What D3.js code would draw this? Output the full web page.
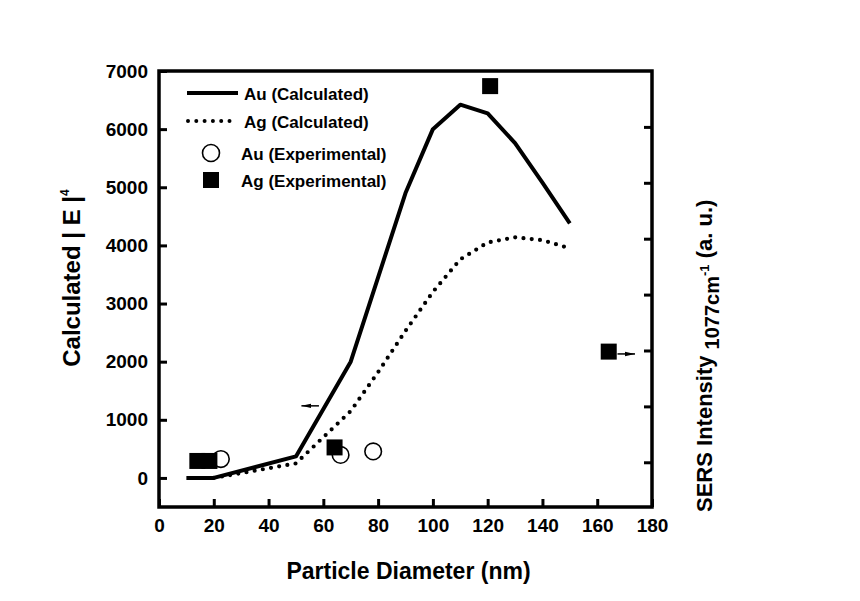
<!DOCTYPE html>
<html>
<head>
<meta charset="utf-8">
<script src="https://cdn.jsdelivr.net/npm/d3@7"></script>
<style>
  body { margin: 0; background: #fff; }
  svg { display: block; font-family: "Liberation Sans", Arial, sans-serif; font-weight: bold; }
</style>
</head>
<body>
<div id="chart"></div>
<script>
// calculated |E|^4 curves (nm, value)
const auCalcX = [10, 20, 50, 70, 90, 100, 110, 120, 130, 140, 150];
const auCalcY = [0, 0, 370, 2000, 4900, 6000, 6420, 6270, 5760, 5080, 4380];
const agCalcX = [20, 50, 70, 80, 90, 100, 110, 120, 130, 140, 150];
const agCalcY = [0, 250, 1150, 1820, 2530, 3200, 3760, 4050, 4140, 4090, 3950];

// experimental points, plotted on the left scale
const auExpX = [22.6, 66.3, 78.2];
const auExpY = [325, 396, 456];
const agExpX = [14.0, 18.4, 64.1, 120.9, 164.2];
const agExpY = [292, 292, 525, 6740, 2173];

const xTicks = [0, 20, 40, 60, 80, 100, 120, 140, 160, 180];
const yTicks = [0, 1000, 2000, 3000, 4000, 5000, 6000, 7000];
const yRightTicks = [0, 1, 2, 3, 4, 5, 6];

// axis-pointing arrows [x1, y1, x2, y2] in data units
const arrowLeft = [58.4, 1240, 52, 1240];
const arrowRight = [167.4, 2133, 173.8, 2133];

const legendItems = [
  { label: "Au (Calculated)", kind: "solid" },
  { label: "Ag (Calculated)", kind: "dotted" },
  { label: "Au (Experimental)", kind: "circle" },
  { label: "Ag (Experimental)", kind: "square" }
];

const width = 860, height = 601;
const svg = d3.select("#chart").append("svg")
  .attr("width", width)
  .attr("height", height);

svg.append("defs").append("marker")
  .attr("id", "head")
  .attr("viewBox", "0 0 10 6")
  .attr("refX", 10).attr("refY", 3)
  .attr("markerWidth", 10).attr("markerHeight", 6)
  .attr("markerUnits", "userSpaceOnUse")
  .attr("orient", "auto")
  .append("path").attr("d", "M0,0.8L10,3L0,5.2Z").attr("fill", "#000");

const x = d3.scaleLinear().domain([0, 180]).range([159, 652]);
const y = d3.scaleLinear().domain([-500, 7000]).range([507, 71]);
const yR = d3.scaleLinear().domain([-0.8, 7]).range([507, 71]);

// axes, ticks pointing inward
const xAxis = svg.append("g")
  .attr("transform", "translate(0," + y.range()[0] + ")")
  .call(d3.axisBottom(x).tickValues(xTicks).tickFormat(d3.format("d"))
    .tickSizeInner(-8).tickSizeOuter(0).tickPadding(12));
const yAxis = svg.append("g")
  .attr("transform", "translate(" + x.range()[0] + ",0)")
  .call(d3.axisLeft(y).tickValues(yTicks).tickFormat(d3.format("d"))
    .tickSizeInner(-8).tickSizeOuter(0).tickPadding(11));
const yAxisR = svg.append("g")
  .attr("transform", "translate(" + x.range()[1] + ",0)")
  .call(d3.axisRight(yR).tickValues(yRightTicks).tickSizeInner(-8).tickSizeOuter(0).tickFormat(""));

[xAxis, yAxis, yAxisR].forEach(function(g) {
  g.select(".domain").remove();
  g.selectAll(".tick line").attr("stroke", "#000").attr("stroke-width", 3);
  g.selectAll(".tick text")
    .attr("fill", "#000")
    .style("font-size", "19px")
    .style("font-family", "'Liberation Sans', Arial, sans-serif")
    .style("font-weight", "bold");
});

// frame
svg.append("rect")
  .attr("x", x.range()[0]).attr("y", y.range()[1])
  .attr("width", x.range()[1] - x.range()[0])
  .attr("height", y.range()[0] - y.range()[1])
  .attr("fill", "none").attr("stroke", "#000").attr("stroke-width", 3.5);

const line = d3.line().x(d => x(d[0])).y(d => y(d[1]));

svg.append("path")
  .datum(auCalcX.map((v, i) => [v, auCalcY[i]]))
  .attr("d", line)
  .attr("fill", "none").attr("stroke", "#000")
  .attr("stroke-width", 4).attr("stroke-linejoin", "round");

svg.append("path")
  .datum(agCalcX.map((v, i) => [v, agCalcY[i]]))
  .attr("d", line)
  .attr("fill", "none").attr("stroke", "#000")
  .attr("stroke-width", 4.2).attr("stroke-linecap", "round")
  .attr("stroke-dasharray", "0 8.3");

// experimental markers
svg.selectAll(".au-exp")
  .data(auExpX.map((v, i) => [v, auExpY[i]]))
  .enter().append("circle")
  .attr("class", "au-exp")
  .attr("cx", d => x(d[0])).attr("cy", d => y(d[1]))
  .attr("r", 8.3)
  .attr("fill", "none")
  .attr("stroke", "#000").attr("stroke-width", 1.6);

svg.selectAll(".ag-exp")
  .data(agExpX.map((v, i) => [v, agExpY[i]]))
  .enter().append("rect")
  .attr("class", "ag-exp")
  .attr("x", d => x(d[0]) - 8).attr("y", d => y(d[1]) - 8)
  .attr("width", 16).attr("height", 16)
  .attr("fill", "#000");

// arrows showing which axis each set belongs to
[arrowLeft, arrowRight].forEach(function(a) {
  svg.append("line")
    .attr("x1", x(a[0])).attr("y1", y(a[1]))
    .attr("x2", x(a[2])).attr("y2", y(a[3]))
    .attr("stroke", "#000").attr("stroke-width", 1.5)
    .attr("marker-end", "url(#head)");
});

// legend
const legend = svg.append("g");
const legendY = [93, 121, 153, 180];
legendItems.forEach(function(item, i) {
  const ly = legendY[i];
  if (item.kind === "solid") {
    legend.append("line").attr("x1", 187).attr("x2", 238).attr("y1", ly).attr("y2", ly)
      .attr("stroke", "#000").attr("stroke-width", 4);
  } else if (item.kind === "dotted") {
    legend.append("line").attr("x1", 188).attr("x2", 232).attr("y1", ly).attr("y2", ly)
      .attr("stroke", "#000").attr("stroke-width", 4).attr("stroke-linecap", "round")
      .attr("stroke-dasharray", "0 8.3");
  } else if (item.kind === "circle") {
    legend.append("circle").attr("cx", 211).attr("cy", ly).attr("r", 8.5)
      .attr("fill", "none").attr("stroke", "#000").attr("stroke-width", 1.6);
  } else {
    legend.append("rect").attr("x", 203).attr("y", ly - 8).attr("width", 16).attr("height", 16)
      .attr("fill", "#000");
  }
  legend.append("text")
    .attr("x", i < 2 ? 244 : 241).attr("y", ly + 1)
    .attr("dy", "0.35em")
    .style("font-size", "17px")
    .text(item.label);
});

// axis titles
svg.append("text")
  .attr("x", (x.range()[0] + x.range()[1]) / 2 + 3).attr("y", 579)
  .attr("text-anchor", "middle")
  .style("font-size", "23px")
  .text("Particle Diameter (nm)");

const yTitle = svg.append("text")
  .attr("transform", "translate(80,278) rotate(-90)")
  .attr("text-anchor", "middle")
  .style("font-size", "24px");
yTitle.append("tspan").text("Calculated | E |");
yTitle.append("tspan").attr("dy", -11).style("font-size", "12px").text("4");

const rTitle = svg.append("text")
  .attr("transform", "translate(712,512) rotate(-90)")
  .attr("text-anchor", "start")
  .style("font-size", "22px");
rTitle.append("tspan").text("SERS Intensity ");
rTitle.append("tspan").attr("dy", 7).style("font-size", "20px").text("1077cm");
rTitle.append("tspan").attr("dy", -10).style("font-size", "13px").text("-1");
rTitle.append("tspan").attr("dy", 3).text(" (a. u.)");
</script>
</body>
</html>
